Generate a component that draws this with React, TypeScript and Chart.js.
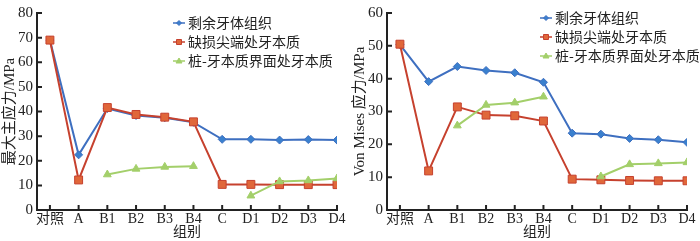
import React, { useEffect, useRef } from "react";
import { Chart, registerables } from "chart.js";

Chart.register(...registerables);

const categories = ["对照", "A", "B1", "B2", "B3", "B4", "C", "D1", "D2", "D3", "D4"];
const seriesNames = ["剩余牙体组织", "缺损尖端处牙本质", "桩-牙本质界面处牙本质"];

// Left chart: 最大主应力
const leftRemaining = [69, 22.4, 41.2, 38.4, 37.5, 35.6, 28.7, 28.7, 28.4, 28.6, 28.4];
const leftDefect = [69, 12.2, 41.6, 38.8, 37.7, 35.8, 10.4, 10.4, 10.3, 10.3, 10.3];
const leftInterface: (number | null)[] = [null, null, 14.4, 16.7, 17.5, 17.8, null, 5.8, 11.6, 12.0, 12.8];

// Right chart: Von Mises 应力
const rightRemaining = [50.4, 39.1, 43.7, 42.5, 41.8, 38.9, 23.4, 23.1, 21.8, 21.4, 20.6];
const rightDefect = [50.5, 11.9, 31.4, 28.9, 28.7, 27.1, 9.4, 9.2, 9.0, 8.9, 8.9];
const rightInterface: (number | null)[] = [null, null, 25.7, 32.0, 32.7, 34.5, null, 10.2, 13.9, 14.2, 14.5];

const FONT = "'Liberation Serif', 'Times New Roman', 'Noto Sans CJK SC', serif";
const AXIS = "#222222";
const BLUE = "#3E6FC0";
const BLUE_PT = "#3A80CE";
const RED = "#C6412E";
const RED_PT = "#E0673A";
const GREEN = "#A3CF6A";

const styles = [
  { line: BLUE, fill: BLUE_PT, border: BLUE, style: "rectRot", radius: 4 },
  { line: RED, fill: RED_PT, border: RED, style: "rect", radius: 5.6 },
  { line: GREEN, fill: GREEN, border: GREEN, style: "triangle", radius: 4.5 },
];

const toXY = (arr: (number | null)[]) => arr.map((v, i) => ({ x: i, y: v }));

const inwardTicks = {
  id: "inwardTicks",
  afterDraw(chart: any) {
    const ctx = chart.ctx;
    const { left, bottom } = chart.chartArea;
    const xs = chart.scales.x;
    const ys = chart.scales.y;
    ctx.save();
    ctx.strokeStyle = AXIS;
    ctx.lineWidth = 2;
    ctx.beginPath();
    xs.ticks.forEach((t: any) => {
      const px = xs.getPixelForValue(t.value);
      ctx.moveTo(px, bottom);
      ctx.lineTo(px, bottom - 5);
    });
    ys.ticks.forEach((t: any) => {
      const py = ys.getPixelForValue(t.value);
      ctx.moveTo(left, py);
      ctx.lineTo(left + 5, py);
    });
    ctx.stroke();
    ctx.restore();
  },
};

const insideLegend = {
  id: "insideLegend",
  afterDraw(chart: any, _args: any, opts: any) {
    const ctx = chart.ctx;
    ctx.save();
    ctx.font = `14px 'Noto Sans CJK SC', ${FONT}`;
    ctx.textBaseline = "middle";
    ctx.fillStyle = "#222";
    chart.data.datasets.forEach((ds: any, i: number) => {
      const y = opts.y + i * opts.gap;
      const st = styles[i];
      ctx.strokeStyle = st.line;
      ctx.lineWidth = 1.5;
      ctx.beginPath();
      ctx.moveTo(opts.x, y);
      ctx.lineTo(opts.x + 12, y);
      ctx.stroke();
      ctx.fillStyle = st.fill;
      ctx.strokeStyle = st.border;
      ctx.lineWidth = 1;
      const cx = opts.x + 6;
      ctx.beginPath();
      if (st.style === "rect") {
        ctx.rect(cx - 2.5, y - 2.5, 5, 5);
      } else if (st.style === "rectRot") {
        ctx.moveTo(cx, y - 2.5);
        ctx.lineTo(cx + 2.5, y);
        ctx.lineTo(cx, y + 2.5);
        ctx.lineTo(cx - 2.5, y);
        ctx.closePath();
      } else {
        ctx.moveTo(cx, y - 3);
        ctx.lineTo(cx + 3, y + 2);
        ctx.lineTo(cx - 3, y + 2);
        ctx.closePath();
      }
      ctx.fill();
      ctx.stroke();
      ctx.fillStyle = "#222";
      ctx.fillText(ds.label, opts.x + 15, y);
    });
    ctx.restore();
  },
};

type Props = {
  data: (number | null)[][];
  yMax: number;
  yTitle: string;
  legendX: number;
  legendY: number;
};

function LineChart({ data, yMax, yTitle, legendX, legendY }: Props) {
  const ref = useRef<HTMLCanvasElement>(null);
  useEffect(() => {
    if (!ref.current) return;
    const chart = new Chart(ref.current, {
      type: "line",
      data: {
        datasets: data.map((arr, i) => ({
          label: seriesNames[i],
          data: toXY(arr),
          borderColor: styles[i].line,
          backgroundColor: styles[i].fill,
          pointBackgroundColor: styles[i].fill,
          pointBorderColor: styles[i].border,
          pointBorderWidth: 1,
          pointStyle: styles[i].style as any,
          pointRadius: styles[i].radius,
          borderWidth: 2,
          tension: 0,
          spanGaps: false,
          order: i === 2 ? 0 : 2 - i,
        })),
      },
      options: {
        animation: false,
        responsive: false,
        devicePixelRatio: 1,
        layout: { padding: { left: 0, top: 7, right: 13, bottom: 0 } },
        plugins: {
          legend: { display: false },
          tooltip: { enabled: false },
          insideLegend: { x: legendX, y: legendY, gap: 19 },
        } as any,
        scales: {
          x: {
            type: "linear",
            min: -0.45,
            max: 10,
            grid: { display: false, drawTicks: false },
            border: { display: true, color: AXIS, width: 2 },
            afterBuildTicks: (s: any) => {
              s.ticks = categories.map((_, i) => ({ value: i }));
            },
            afterFit: (s: any) => {
              s.height = 31;
            },
            ticks: {
              autoSkip: false,
              maxRotation: 0,
              padding: 1,
              color: "#222",
              font: { family: FONT, size: 14 },
              callback: (v: any) => categories[v] ?? "",
            },
            title: {
              display: true,
              text: "组别",
              color: "#222",
              padding: 0,
              font: { family: FONT, size: 14 },
            },
          },
          y: {
            min: 0,
            max: yMax,
            grid: { display: false, drawTicks: false },
            border: { display: true, color: AXIS, width: 2 },
            afterFit: (s: any) => {
              s.width = 37;
            },
            ticks: {
              stepSize: 10,
              padding: 4,
              color: "#222",
              font: { family: FONT, size: 15 },
            },
            title: {
              display: true,
              text: yTitle,
              color: "#222",
              padding: 1,
              font: { family: FONT, size: 15 },
            },
          },
        },
      },
      plugins: [inwardTicks, insideLegend],
    });
    return () => chart.destroy();
  }, []);
  return <canvas ref={ref} width={350} height={241} style={{ display: "block" }} />;
}

export default function App() {
  return (
    <div
      style={{
        position: "fixed",
        left: 0,
        top: 0,
        width: 700,
        height: 241,
        display: "flex",
        background: "#fff",
      }}
    >
      <LineChart
        data={[leftRemaining, leftDefect, leftInterface]}
        yMax={80}
        yTitle="最大主应力/MPa"
        legendX={173}
        legendY={23}
      />
      <LineChart
        data={[rightRemaining, rightDefect, rightInterface]}
        yMax={60}
        yTitle="Von Mises 应力/MPa"
        legendX={190}
        legendY={18}
      />
    </div>
  );
}
